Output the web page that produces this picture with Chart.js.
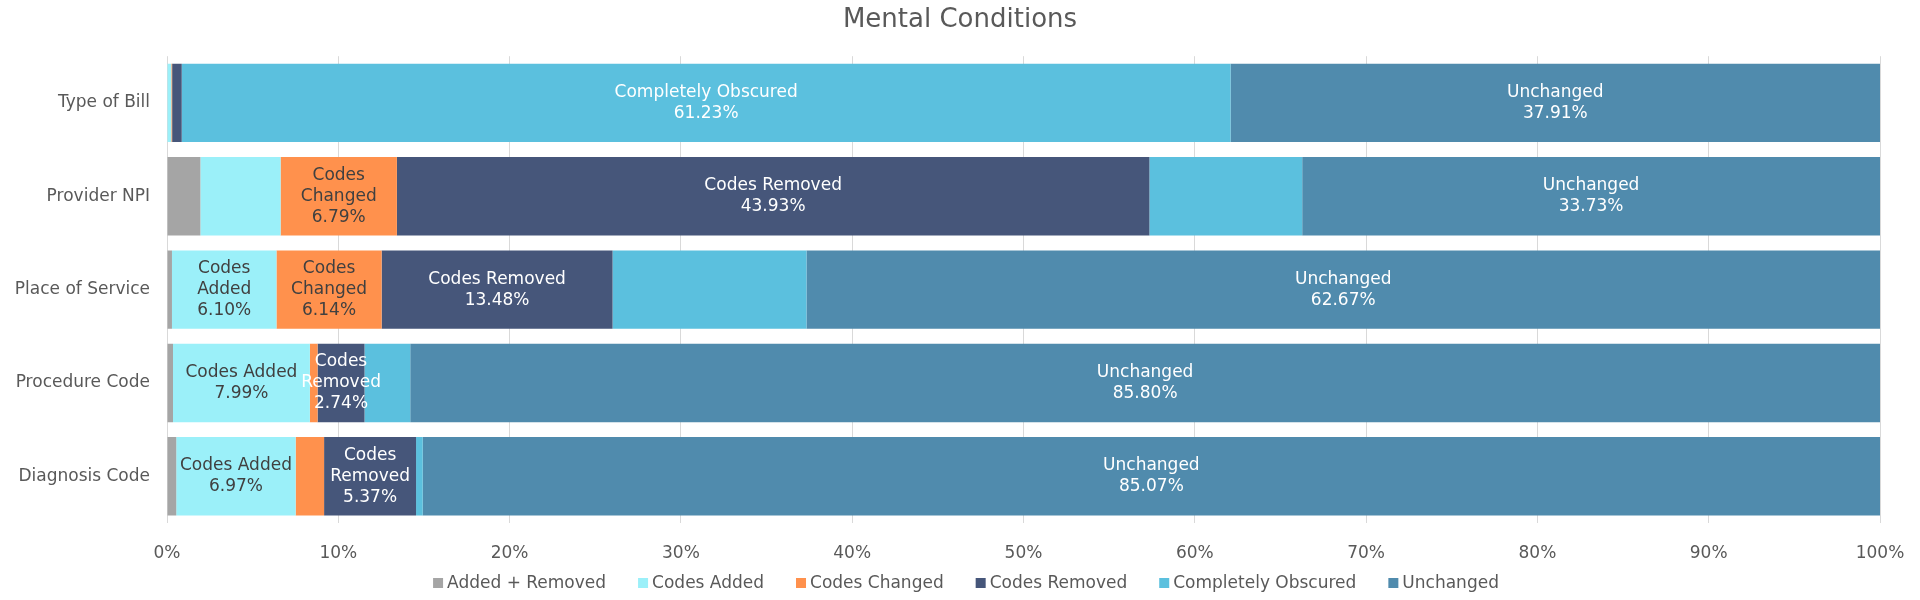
<!DOCTYPE html>
<html>
<head>
<meta charset="utf-8">
<script src="https://cdn.jsdelivr.net/npm/chart.js@4/dist/chart.umd.min.js"></script>
<style>
  html, body { margin: 0; padding: 0; background: #ffffff; }
  #wrap { width: 1920px; height: 600px; }
</style>
</head>
<body>
<div id="wrap"><canvas id="c" width="1920" height="600"></canvas></div>
<script>
const categories = ["Type of Bill", "Provider NPI", "Place of Service", "Procedure Code", "Diagnosis Code"];
const seriesNames = ["Added + Removed", "Codes Added", "Codes Changed", "Codes Removed", "Completely Obscured", "Unchanged"];

const addedRemoved       = [0.00, 1.95, 0.29, 0.35, 0.54];
const codesAdded         = [0.25, 4.68, 6.10, 7.99, 6.97];
const codesChanged       = [0.05, 6.79, 6.14, 0.45, 1.66];
const codesRemoved       = [0.56, 43.93, 13.48, 2.74, 5.37];
const completelyObscured = [61.23, 8.92, 11.32, 2.67, 0.39];
const unchanged          = [37.91, 33.73, 62.67, 85.80, 85.07];

// which segments carry a data label
const labelAddedRemoved       = [false, false, false, false, false];
const labelCodesAdded         = [false, false, true, true, true];
const labelCodesChanged       = [false, true, true, false, false];
const labelCodesRemoved       = [false, true, true, true, true];
const labelCompletelyObscured = [true, false, false, false, false];
const labelUnchanged          = [true, true, true, true, true];

const xTicks = [0, 10, 20, 30, 40, 50, 60, 70, 80, 90, 100];

const colors = ["#A5A5A5", "#9BF0F9", "#FF914D", "#46567A", "#5BC0DE", "#508BAD"];
const labelColors = ["#404040", "#404040", "#404040", "#FFFFFF", "#FFFFFF", "#FFFFFF"];

const seriesValues = [addedRemoved, codesAdded, codesChanged, codesRemoved, completelyObscured, unchanged];
const seriesLabels = [labelAddedRemoved, labelCodesAdded, labelCodesChanged, labelCodesRemoved, labelCompletelyObscured, labelUnchanged];

const FONT = "'DejaVu Sans', Verdana, sans-serif";

const datasets = seriesNames.map((name, i) => ({
  label: name,
  data: seriesValues[i],
  backgroundColor: colors[i],
  borderWidth: 0,
  categoryPercentage: 1.0,
  barPercentage: 0.84,
  showLabel: seriesLabels[i],
  labelColor: labelColors[i]
}));

function wrapWords(ctx, text, maxW) {
  const words = text.split(' ');
  const lines = [];
  let cur = '';
  words.forEach(w => {
    const test = cur ? cur + ' ' + w : w;
    if (cur && ctx.measureText(test).width > maxW) {
      lines.push(cur);
      cur = w;
    } else {
      cur = test;
    }
  });
  if (cur) lines.push(cur);
  return lines;
}

const segLabels = {
  id: 'segLabels',
  afterDatasetsDraw(chart) {
    const ctx = chart.ctx;
    ctx.save();
    ctx.font = "17px " + FONT;
    ctx.textAlign = 'center';
    ctx.textBaseline = 'middle';
    chart.data.datasets.forEach((ds, i) => {
      const meta = chart.getDatasetMeta(i);
      meta.data.forEach((bar, j) => {
        if (!ds.showLabel[j]) return;
        const p = bar.getProps(['x', 'y', 'base'], true);
        const w = Math.abs(p.x - p.base);
        const cx = (p.x + p.base) / 2;
        const lines = wrapWords(ctx, ds.label, w - 4);
        lines.push(ds.data[j].toFixed(2) + '%');
        const lh = 21;
        const y0 = p.y - (lines.length - 1) * lh / 2;
        ctx.fillStyle = ds.labelColor;
        lines.forEach((ln, k) => ctx.fillText(ln, cx, y0 + k * lh));
      });
    });
    ctx.restore();
  }
};

// legend drawn below the axis
const bottomLegend = {
  id: 'bottomLegend',
  afterDraw(chart) {
    const ctx = chart.ctx;
    ctx.save();
    ctx.font = "17px " + FONT;
    ctx.textBaseline = 'middle';
    ctx.textAlign = 'left';
    const box = 10, gapText = 4, gapItem = 32;
    const items = chart.data.datasets.map(ds => ({ text: ds.label, color: ds.backgroundColor, w: ctx.measureText(ds.label).width }));
    const total = items.reduce((s, it) => s + box + gapText + it.w, 0) + gapItem * (items.length - 1);
    let x = 966 - total / 2;
    const y = 583;
    items.forEach(it => {
      ctx.fillStyle = it.color;
      ctx.fillRect(x, y - box / 2, box, box);
      ctx.fillStyle = '#595959';
      ctx.fillText(it.text, x + box + gapText, y + 1);
      x += box + gapText + it.w + gapItem;
    });
    ctx.restore();
  }
};

Chart.defaults.font.family = FONT;
Chart.defaults.color = '#595959';

new Chart(document.getElementById('c'), {
  type: 'bar',
  data: { labels: categories, datasets: datasets },
  options: {
    indexAxis: 'y',
    responsive: false,
    animation: false,
    devicePixelRatio: 1,
    layout: { padding: { left: 0, right: 0, top: 0, bottom: 32 } },
    scales: {
      x: {
        stacked: true,
        min: 0,
        max: 100,
        afterBuildTicks(scale) { scale.ticks = xTicks.map(v => ({ value: v })); },
        ticks: {
          callback: v => v + '%',
          font: { size: 17, lineHeight: 1.8 },
          color: '#595959',
          padding: 15,
          maxRotation: 0
        },
        grid: { color: '#D9D9D9', lineWidth: 1, drawTicks: false },
        border: { display: false },
        afterFit(scale) { scale.height = 45; }
      },
      y: {
        stacked: true,
        ticks: { font: { size: 17 }, color: '#595959', padding: 17 },
        grid: { display: false, drawTicks: false },
        border: { display: false },
        afterFit(scale) { scale.width = 167; }
      },
      yRight: {
        type: 'category',
        position: 'right',
        display: true,
        ticks: { display: false },
        grid: { display: false, drawTicks: false },
        border: { display: false },
        afterFit(scale) { scale.width = 40; }
      }
    },
    plugins: {
      title: {
        display: true,
        text: 'Mental Conditions',
        font: { size: 26, weight: 'normal' },
        color: '#595959',
        padding: { top: 5, bottom: 20 }
      },
      legend: { display: false },
      tooltip: { enabled: false }
    }
  },
  plugins: [segLabels, bottomLegend]
});
</script>
</body>
</html>
